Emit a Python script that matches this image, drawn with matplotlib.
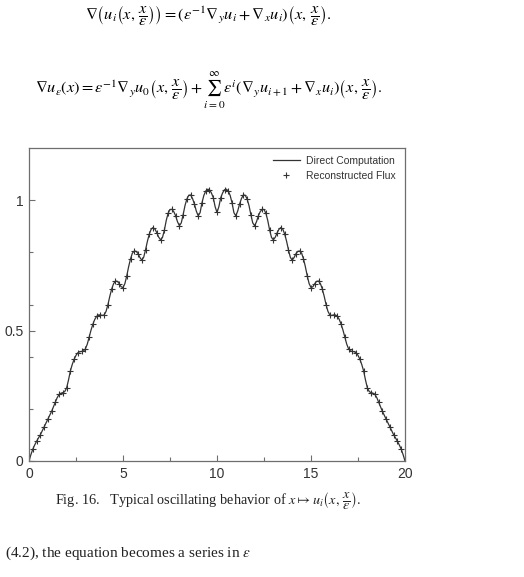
import numpy as np
import matplotlib
matplotlib.use("Agg")
from matplotlib import pyplot as plt
from matplotlib.lines import Line2D

plt.rcParams['font.family'] = ['Liberation Sans', 'DejaVu Sans']
plt.rcParams['mathtext.fontset'] = 'stix'

x_vals = np.linspace(0, 20, 201)
u_left = [
    0.0, 0.024, 0.045, 0.061, 0.075, 0.088, 0.10, 0.115, 0.13, 0.145,
    0.16, 0.175, 0.19, 0.208, 0.225, 0.243, 0.255, 0.260, 0.262, 0.266,
    0.28, 0.31, 0.345, 0.37, 0.39, 0.405, 0.415, 0.419, 0.42, 0.422,
    0.43, 0.448, 0.475, 0.502, 0.525, 0.543, 0.555, 0.560, 0.56, 0.558,
    0.56, 0.574, 0.60, 0.632, 0.66, 0.68, 0.69, 0.689, 0.68, 0.668,
    0.665, 0.680, 0.71, 0.745, 0.775, 0.797, 0.805, 0.804, 0.795, 0.780,
    0.77, 0.781, 0.81, 0.843, 0.87, 0.889, 0.895, 0.889, 0.875, 0.858,
    0.848, 0.857, 0.885, 0.922, 0.95, 0.964, 0.965, 0.956, 0.94, 0.917,
    0.902, 0.913, 0.945, 0.980, 1.005, 1.019, 1.02, 1.006, 0.985, 0.958,
    0.94, 0.952, 0.99, 1.018, 1.035, 1.042, 1.04, 1.028, 1.01, 0.975,
    0.953,
]
u_right = [
    0.975, 1.01, 1.028, 1.04, 1.042, 1.035, 1.018, 0.99, 0.952, 0.94,
    0.958, 0.985, 1.006, 1.02, 1.019, 1.005, 0.980, 0.945, 0.913, 0.902,
    0.917, 0.94, 0.956, 0.965, 0.964, 0.95, 0.922, 0.885, 0.857, 0.848,
    0.858, 0.875, 0.889, 0.895, 0.889, 0.87, 0.843, 0.81, 0.781, 0.77,
    0.780, 0.795, 0.804, 0.805, 0.797, 0.775, 0.745, 0.71, 0.680, 0.665,
    0.668, 0.68, 0.689, 0.69, 0.68, 0.66, 0.632, 0.60, 0.574, 0.56,
    0.558, 0.56, 0.560, 0.555, 0.543, 0.525, 0.502, 0.475, 0.448, 0.43,
    0.422, 0.42, 0.419, 0.415, 0.405, 0.39, 0.37, 0.345, 0.31, 0.28,
    0.266, 0.262, 0.260, 0.255, 0.243, 0.225, 0.208, 0.19, 0.175, 0.16,
    0.145, 0.13, 0.115, 0.10, 0.088, 0.075, 0.061, 0.045, 0.024, 0.0,
]
u_direct = u_left + u_right
# reconstructed flux sits on the direct curve, plotted every 0.2
x_recon = x_vals[::2]
u_recon = u_direct[::2]

x_major = [0, 5, 10, 15, 20]
x_minor = [2.5, 7.5, 12.5, 17.5]
y_major = [0, 0.5, 1]
y_minor = [0.2, 0.4, 0.6, 0.8]
legend_labels = ["Direct Computation", "Reconstructed Flux"]

W, H = 524, 577
fig = plt.figure(figsize=(W / 100, H / 100), dpi=100)
ax = fig.add_axes([29 / W, 1 - 461 / H, 376 / W, 313 / H])

ink = '#333333'
frame = '#6e6e6e'
ax.plot(x_vals, u_direct, color=ink, lw=0.9)
ax.plot(x_recon, u_recon, ls='none', marker='+', ms=5, mew=0.8, color=ink)

ax.set_xlim(0, 20)
ax.set_ylim(0, 1.2)
ax.set_xticks(x_major)
ax.set_xticks(x_minor, minor=True)
ax.set_yticks(y_major)
ax.set_yticks(y_minor, minor=True)
ax.set_xticklabels([str(v) for v in x_major])
ax.set_yticklabels(['0', '0.5', '1'])
ax.tick_params(which='both', direction='in', color=frame, labelcolor=ink,
               labelsize=10, top=False, right=False)
ax.tick_params(which='major', length=4, width=0.8, pad=4)
ax.tick_params(which='minor', length=3, width=0.8)
for sp in ax.spines.values():
    sp.set_color(frame)
    sp.set_linewidth(0.9)

handles = [Line2D([], [], color=ink, lw=0.9),
           Line2D([], [], ls='none', marker='+', ms=5, mew=0.8, color=ink)]
leg = ax.legend(handles, legend_labels, loc='upper right',
                bbox_to_anchor=(0.975, 0.975), frameon=False, fontsize=7.5,
                handlelength=2.6, handletextpad=0.6, labelspacing=0.45,
                borderpad=0, borderaxespad=0)
for t in leg.get_texts():
    t.set_color(ink)

# surrounding page text
serif = ['Liberation Serif', 'DejaVu Serif']
fig.text(208 / W, 1 - 16 / H,
         r"$\nabla\left(u_i\left(x,\,\dfrac{x}{\varepsilon}\right)\right)"
         r"=(\varepsilon^{-1}\nabla_y u_i+\nabla_x u_i)"
         r"\left(x,\,\dfrac{x}{\varepsilon}\right).$",
         ha='center', va='center', fontsize=11.8, family=serif)
fig.text(35 / W, 1 - 91 / H,
         r"$\nabla u_\varepsilon(x)=\varepsilon^{-1}\nabla_y u_0"
         r"\left(x,\,\dfrac{x}{\varepsilon}\right)+\sum_{i=0}^{\infty}"
         r"\varepsilon^i(\nabla_y u_{i+1}+\nabla_x u_i)"
         r"\left(x,\,\dfrac{x}{\varepsilon}\right).$",
         ha='left', va='center', fontsize=11.7, family=serif)
fig.text(55 / W, 1 - 500 / H,
         r"Fig. 16.   Typical oscillating behavior of "
         r"$x\mapsto u_i\left(x,\,\dfrac{x}{\varepsilon}\right)$.",
         ha='left', va='center', fontsize=10.3, family=serif, color='#222222')
fig.text(5 / W, 1 - 553 / H,
         r"(4.2), the equation becomes a series in $\varepsilon$",
         ha='left', va='center', fontsize=11, family=serif, color='#222222')

fig.savefig('out.png', dpi=100)
